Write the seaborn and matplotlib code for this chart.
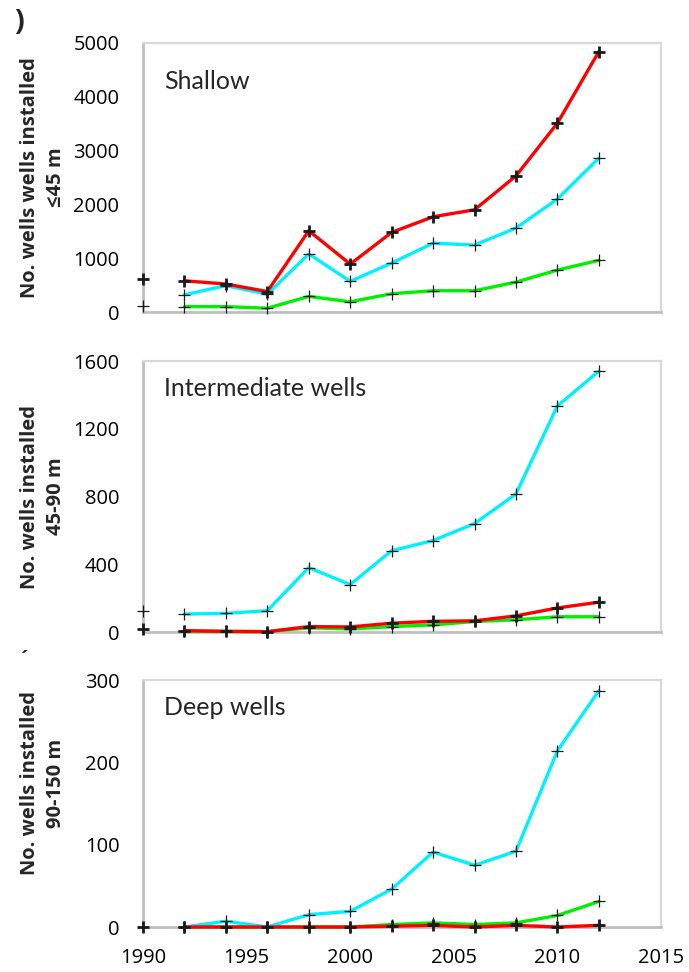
import numpy as np
import pandas as pd
import matplotlib
matplotlib.use("Agg")
import matplotlib.pyplot as plt
import seaborn as sns
from matplotlib.ticker import MultipleLocator

# ---------------- data ----------------
years = [1992, 1994, 1996, 1998, 2000, 2002, 2004, 2006, 2008, 2010, 2012]

# Shallow (<45 m)
shallow_red = [580, 520, 380, 1510, 890, 1480, 1770, 1900, 2530, 3510, 4840]
shallow_cyan = [320, 490, 330, 1080, 570, 910, 1280, 1245, 1560, 2100, 2860]
shallow_green = [100, 100, 70, 290, 190, 340, 395, 395, 555, 780, 960]
shallow_1990 = {"red": 620, "green": 110}

# Intermediate (45-90 m)
inter_red = [8, 4, 2, 32, 30, 52, 63, 66, 95, 142, 176]
inter_cyan = [106, 110, 126, 380, 280, 480, 540, 640, 815, 1335, 1540]
inter_green = [5, 3, 2, 25, 18, 32, 42, 62, 72, 90, 90]
inter_1990 = {"red": 16, "cyan": 126}

# Deep (90-150 m)
deep_red = [0, 0, 0, 0, 0, 1, 2, 0, 2, 0, 2]
deep_cyan = [0, 7, 0, 15, 19, 46, 91, 75, 92, 214, 287]
deep_green = [0, 0, 0, 0, 0, 3, 5, 3, 5, 14, 31]
deep_1990 = {"red": 0}

panel_titles = ["Shallow", "Intermediate wells", "Deep wells"]
ylabels = ["No. wells wells installed\n\u226445 m",
           "No. wells installed\n45-90 m",
           "No. wells installed\n90-150 m"]
ylims = [(0, 5000), (0, 1600), (0, 300)]
ymajor = [1000, 400, 100]
yminor = [500, 200, 50]
xticks = [1990, 1995, 2000, 2005, 2010, 2015]

# ---------------- style ----------------
sns.set_theme(style="white")
plt.rcParams['font.family'] = ['Open Sans', 'DejaVu Sans']

colors = {"red": "#FF0000", "cyan": "#00F0FF", "green": "#00F000"}
mews = {"red": 2.0, "cyan": 0.9, "green": 0.9}

fig = plt.figure(figsize=(6.89, 9.72), dpi=100)
W, H = 689, 972
left, right = 143, 661
boxes = [(43, 312), (361, 632), (680, 927)]

panels = [
    {"red": shallow_red, "cyan": shallow_cyan, "green": shallow_green, "p1990": shallow_1990},
    {"red": inter_red, "cyan": inter_cyan, "green": inter_green, "p1990": inter_1990},
    {"red": deep_red, "cyan": deep_cyan, "green": deep_green, "p1990": deep_1990},
]
title_y = [0.829, 0.871, 0.858]
label_y = [0.5, 0.5, 0.583]

for i, (pan, (top, bot)) in enumerate(zip(panels, boxes)):
    ax = fig.add_axes([left / W, 1 - bot / H, (right - left) / W, (bot - top) / H])
    for key in ["green", "cyan", "red"]:
        df = pd.DataFrame({"year": years, "value": pan[key]})
        sns.lineplot(data=df, x="year", y="value", ax=ax, color=colors[key],
                     lw=2.4, marker="+", ms=8.5, mec="k", mew=mews[key],
                     clip_on=False, zorder=3)
    for key, v in pan["p1990"].items():
        sns.lineplot(x=[1990], y=[v], ax=ax, color=colors[key], lw=0,
                     marker="+", ms=8.5, mec="k", mew=mews[key],
                     clip_on=False, zorder=4)

    ax.set_xlim(1990, 2015)
    ax.set_ylim(*ylims[i])
    ax.xaxis.set_major_locator(MultipleLocator(5))
    ax.xaxis.set_minor_locator(MultipleLocator(1))
    ax.yaxis.set_major_locator(MultipleLocator(ymajor[i]))
    ax.yaxis.set_minor_locator(MultipleLocator(yminor[i]))

    ax.tick_params(axis="both", which="major", direction="inout", length=10,
                   width=1.5, color="#BFBFBF", labelsize=14.5, labelcolor="black")
    ax.tick_params(axis="both", which="minor", direction="in", length=5,
                   width=1.5, color="#BFBFBF")
    ax.tick_params(axis="y", which="major", pad=12)
    ax.tick_params(axis="x", which="major", pad=10)
    if i < 2:
        ax.tick_params(axis="x", which="both", labelbottom=False)

    for s in ["left", "bottom"]:
        ax.spines[s].set_color("#BFBFBF")
        ax.spines[s].set_linewidth(2.0)
    for s in ["top", "right"]:
        ax.spines[s].set_color("#D9D9D9")
        ax.spines[s].set_linewidth(1.6)

    ax.set_xlabel("")
    ax.set_ylabel(ylabels[i], fontsize=14.5, fontweight="bold", linespacing=1.45)
    ax.yaxis.set_label_coords(-0.148, label_y[i])

    ax.text(0.04, title_y[i], panel_titles[i], transform=ax.transAxes,
            fontsize=18, family=['Lato', 'Open Sans', 'DejaVu Sans'],
            ha="left", va="baseline")

fig.text(19 / W, 1 - 22 / H, ")", ha="center", va="center", fontsize=21, fontweight="bold")
fig.text(25 / W, 1 - 660 / H, "\u00b4", ha="center", va="center", fontsize=14, fontweight="bold")

fig.savefig("out.png", dpi=100)
